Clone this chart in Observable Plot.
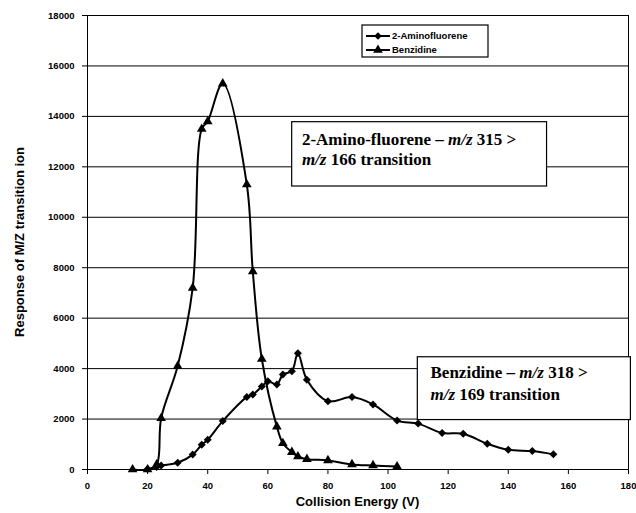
<!DOCTYPE html>
<html><head><meta charset="utf-8">
<script src="https://cdn.jsdelivr.net/npm/d3@7"></script>
<script src="https://cdn.jsdelivr.net/npm/@observablehq/plot@0.6"></script>
<style>body{margin:0;background:#fff} svg{display:block}</style>
</head><body><div id="chart"></div>
<script>
const seriesNames = ["2-Aminofluorene", "Benzidine"];
const aminoX = [20, 23, 24.5, 30, 35, 38, 40, 45, 53, 55, 58, 60, 63, 65, 68, 70, 73, 80, 88, 95, 103, 110, 118, 125, 133, 140, 148, 155];
const aminoY = [20, 100, 160, 265, 590, 980, 1180, 1920, 2870, 2970, 3290, 3500, 3370, 3770, 3900, 4610, 3560, 2710, 2870, 2580, 1940, 1820, 1450, 1420, 1020, 780, 730, 600];
const benzX = [15, 20, 23, 24.5, 30, 35, 38, 40, 45, 53, 55, 58, 63, 65, 68, 70, 73, 80, 88, 95, 103];
const benzY = [0, 0, 190, 2030, 4100, 7200, 13500, 13800, 15300, 11300, 7850, 4380, 1700, 1040, 690, 515, 410, 360, 200, 160, 120];
const xTicks = [0, 20, 40, 60, 80, 100, 120, 140, 160, 180];
const yTicks = [0, 2000, 4000, 6000, 8000, 10000, 12000, 14000, 16000, 18000];
const xTitle = "Collision Energy (V)";
const yTitle = "Response of M/Z transition ion";
// annotation boxes (data units)
const notes = [
  {x1: 68.1, x2: 152.9, y1: 11220, y2: 13770, tx: 71.5, lines: [[["2-Amino-fluorene – ", false], ["m/z", true], [" 315 >", false]], [["m/z", true], [" 166 transition", false]]], base: [12850, 12050]},
  {x1: 109.9, x2: 180.8, y1: 1960, y2: 4450, tx: 114.3, lines: [[["Benzidine – ", false], ["m/z", true], [" 318 >", false]], [["m/z", true], [" 169 transition", false]]], base: [3610, 2740]}
];

const data = [
  ...aminoX.map((x, i) => ({series: seriesNames[0], x, y: aminoY[i]})),
  ...benzX.map((x, i) => ({series: seriesNames[1], x, y: benzY[i]}))
];

const plot = Plot.plot({
  width: 636, height: 513,
  marginLeft: 87, marginRight: 8, marginTop: 15, marginBottom: 44,
  style: {fontFamily: "'Liberation Sans', Arial, sans-serif", fontWeight: "bold", fontSize: "9.5px", background: "white", color: "#000"},
  x: {domain: [0, 180], ticks: xTicks},
  y: {domain: [0, 18000], ticks: yTicks},
  symbol: {domain: seriesNames, range: ["diamond2", "triangle"]},
  marks: [
    Plot.ruleY(yTicks.slice(1), {stroke: "#000", strokeWidth: 1}),
    Plot.frame({stroke: "#000", strokeWidth: 1}),
    Plot.axisX({ticks: xTicks, tickSize: 5, tickPadding: 8, label: null, tickFormat: d3.format("d")}),
    Plot.axisY({ticks: yTicks, tickSize: 5, tickPadding: 8, label: null, tickFormat: d3.format("d")}),
    Plot.line(data, {x: "x", y: "y", z: "series", curve: "catmull-rom", stroke: "#000", strokeWidth: 2}),
    Plot.dot(data, {x: "x", y: "y", symbol: "series", fill: "#000", stroke: "none", r: 3.6}),
    Plot.rect(notes, {x1: "x1", x2: "x2", y1: "y1", y2: "y2", fill: "white", stroke: "#000", strokeWidth: 1.2})
  ]
});

const svg = d3.select(plot);
const xs = plot.scale("x"), ys = plot.scale("y");
// annotation text
notes.forEach(n => {
  n.lines.forEach((parts, li) => {
    const t = svg.append("text")
      .attr("x", xs.apply(n.tx)).attr("y", ys.apply(n.base[li]))
      .attr("text-anchor", "start")
      .attr("font-family", "'Liberation Serif', 'Times New Roman', serif")
      .attr("font-weight", "bold").attr("font-size", 17).attr("fill", "#000");
    parts.forEach(([s, it]) => t.append("tspan").attr("font-style", it ? "italic" : "normal").text(s));
  });
});
// axis titles
svg.append("text").attr("x", (xs.range[0] + xs.range[1]) / 2).attr("y", 506)
  .attr("text-anchor", "middle").attr("font-size", 13).attr("font-weight", "bold")
  .attr("font-family", "'Liberation Sans', Arial, sans-serif").text(xTitle);
svg.append("text").attr("transform", `translate(24,${(ys.range[0] + ys.range[1]) / 2}) rotate(-90)`)
  .attr("text-anchor", "middle").attr("font-size", 13).attr("font-weight", "bold")
  .attr("font-family", "'Liberation Sans', Arial, sans-serif").text(yTitle);
// legend
const lg = svg.append("g").attr("transform", "translate(362,25)");
lg.append("rect").attr("width", 126).attr("height", 32).attr("fill", "white").attr("stroke", "#000").attr("stroke-width", 1.2);
const sym = [d3.symbol(d3.symbolSquare, 30), d3.symbol(d3.symbolTriangle, 40)];
seriesNames.forEach((name, i) => {
  const y = 11 + i * 14;
  lg.append("line").attr("x1", 4).attr("x2", 28).attr("y1", y).attr("y2", y).attr("stroke", "#000").attr("stroke-width", 2);
  lg.append("path").attr("d", sym[i]()).attr("transform", `translate(16,${y}) rotate(${i === 0 ? 45 : 0})`).attr("fill", "#000");
  lg.append("text").attr("x", 30).attr("y", y).attr("dy", "0.35em").attr("text-anchor", "start").attr("font-size", 9.5).attr("font-weight", "bold")
    .attr("font-family", "'Liberation Sans', Arial, sans-serif").text(name);
});
document.getElementById("chart").appendChild(plot);
</script>
</body></html>
